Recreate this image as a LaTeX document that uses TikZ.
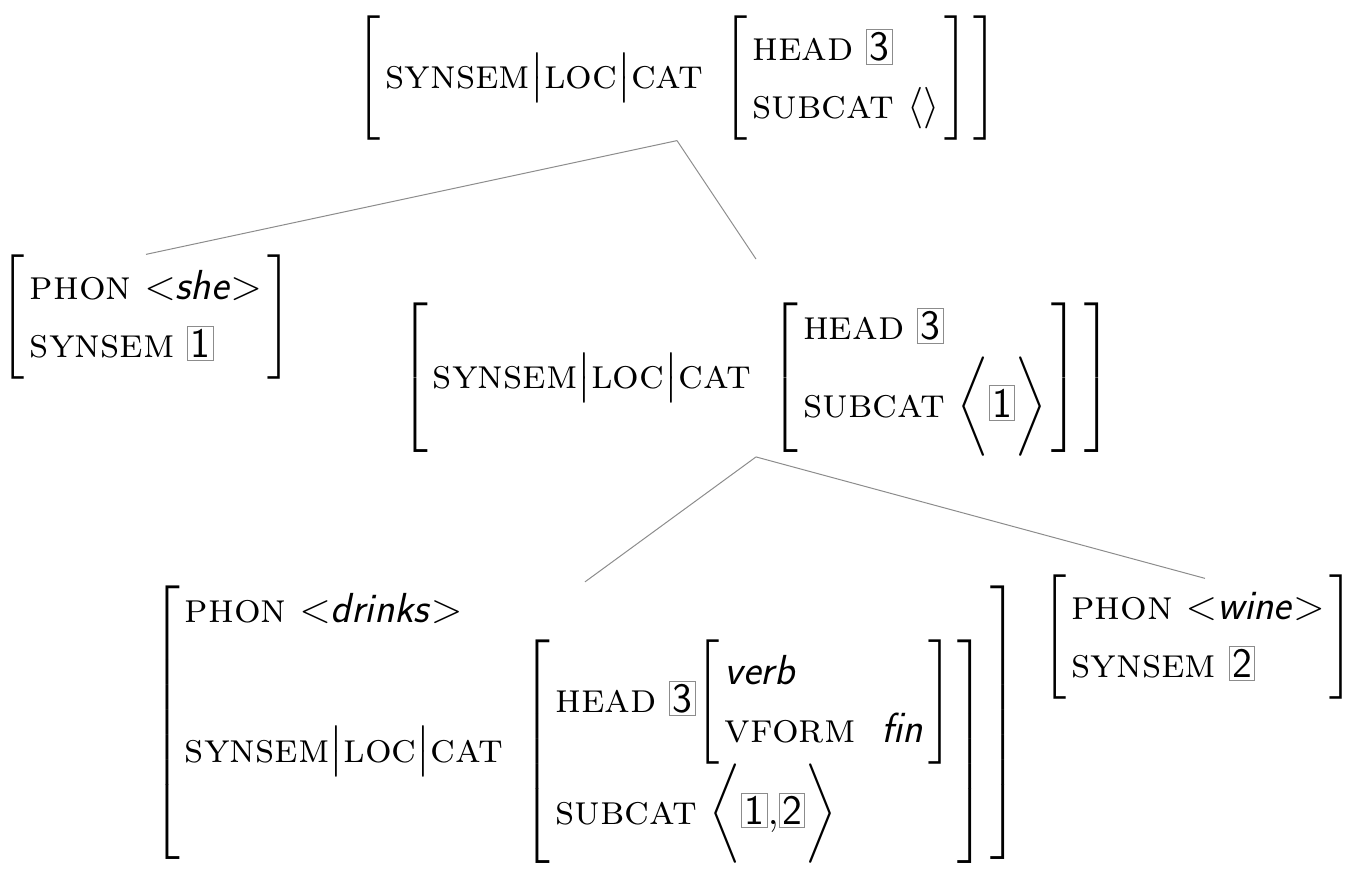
\documentclass[tikz,border=0pt]{standalone}
\usepackage{amsmath}
\usetikzlibrary{positioning}
\definecolor{tagframe}{gray}{0.55}
\setlength{\arraycolsep}{2.5pt}
\renewcommand{\arraystretch}{1.15}
\newcommand{\feat}[1]{\text{\textsc{#1}}}
\newcommand{\val}[1]{\text{\textsf{\itshape #1}}}
\newcommand{\phonval}[1]{\text{$<$\textsf{\itshape #1}$>$}}
\newcommand{\avtag}[1]{\text{\setlength{\fboxsep}{1.2pt}\setlength{\fboxrule}{0.5pt}\fcolorbox{tagframe}{white}{\sffamily #1}}}
\newcommand{\slc}{\feat{synsem}\big|\feat{loc}\big|\feat{cat}}

\begin{document}
\begin{tikzpicture}
	% style
	[x=0.5pt, y=-0.5pt,
	avm/.style={inner sep=0pt, font=\fontsize{21}{25}\selectfont},
	branch/.style={draw=gray!90, line width=0.5pt}]
	\useasboundingbox (0,0) rectangle (1348,870);

	% mother: S
	\node [avm] (s) at (677,78) {$\left[\begin{array}{l}
		\slc\ \left[\begin{array}{l}
			\feat{head}\ \avtag{3}\\
			\feat{subcat}\ \langle\rangle
		\end{array}\right]
	\end{array}\right]$};

	% subject
	\node [avm] (she) at (146,317) {$\left[\begin{array}{l}
		\feat{phon}\ \phonval{she}\\
		\feat{synsem}\ \avtag{1}
	\end{array}\right]$};

	% head daughter: VP
	\node [avm] (vp) at (756,378) {$\left[\begin{array}{l}
		\slc\ \left[\begin{array}{l}
			\feat{head}\ \avtag{3}\\
			\feat{subcat}\ \bigg\langle\avtag{1}\bigg\rangle
		\end{array}\right]
	\end{array}\right]$};

	% verb
	\node [avm] (drinks) at (585,723) {$\left[\begin{array}{l}
		\feat{phon}\ \phonval{drinks}\\
		\slc\ \left[\begin{array}{l}
			\feat{head}\ \avtag{3}\!\left[\begin{array}{l@{\hspace{13pt}}l}
				\val{verb} & \\
				\feat{vform} & \val{fin}
			\end{array}\right]\\
			\feat{subcat}\ \bigg\langle\avtag{1}{,}\avtag{2}\bigg\rangle
		\end{array}\right]
	\end{array}\right]$};

	% object
	\node [avm] (wine) at (1198,637) {$\left[\begin{array}{l}
		\feat{phon}\ \phonval{wine}\\
		\feat{synsem}\ \avtag{2}
	\end{array}\right]$};

	\path [branch] (s.south) -- (she.north)
	               (s.south) -- ([yshift=20pt]vp.north)
	               (vp.south) -- (drinks.north)
	               (vp.south) -- ([xshift=3.5pt, yshift=-2pt]wine.north);
\end{tikzpicture}
\end{document}
